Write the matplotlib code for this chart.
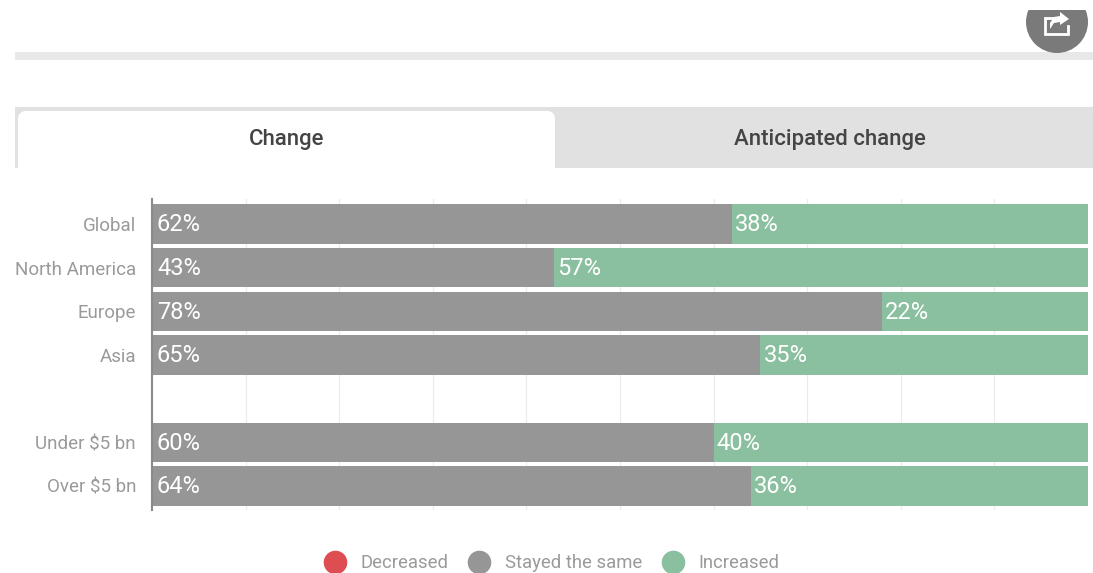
import matplotlib
matplotlib.use("Agg")
import matplotlib.pyplot as plt
from matplotlib.patches import Rectangle, Circle, FancyBboxPatch, Polygon
from matplotlib.lines import Line2D

plt.rcParams['font.family'] = ['Roboto', 'DejaVu Sans']

categories = ["Global", "North America", "Europe", "Asia", "", "Under $5 bn", "Over $5 bn"]
decreased = [0, 0, 0, 0, 0, 0, 0]
stayed = [62, 43, 78, 65, 0, 60, 64]
increased = [38, 57, 22, 35, 0, 40, 36]
series_names = ["Decreased", "Stayed the same", "Increased"]
tab_labels = ["Change", "Anticipated change"]
colors = ["#dd4d52", "#969696", "#8abf9f"]

W, H = 1093, 573
fig = plt.figure(figsize=(W / 100, H / 100), dpi=100, facecolor="white")

# page chrome, in pixel coordinates
bg = fig.add_axes([0, 0, 1, 1], zorder=0)
bg.set_xlim(0, W); bg.set_ylim(H, 0); bg.axis("off")
bg.add_patch(Rectangle((15, 52), W - 15, 8, fc="#e8e8e8", ec="none"))
bg.add_patch(Rectangle((15, 107), W - 15, 61, fc="#e1e1e1", ec="none"))
bg.add_patch(FancyBboxPatch((22, 115), 529, 70, boxstyle="round,pad=0,rounding_size=4",
                            fc="white", ec="white", lw=5.76, mutation_aspect=1))
bg.add_patch(Rectangle((15, 168), W - 15, 30, fc="white", ec="none"))
bg.text(287, 139.5, tab_labels[0], ha="center", va="center", fontsize=15.9, color="#444444", fontweight="medium")
bg.text(830, 139.5, tab_labels[1], ha="center", va="center", fontsize=15.9, color="#444444", fontweight="medium")

# share button
disc = Circle((1057, 22), 31, fc="#7a7a7a", ec="none")
bg.add_patch(disc)
disc.set_clip_path(Rectangle((1000, 10), 93, 60, transform=bg.transData))
bg.add_line(Line2D([1053, 1045, 1045, 1068, 1068], [18, 18, 34, 34, 26], color="white", lw=2.0, solid_joinstyle="miter"))
bg.add_patch(Polygon([(1060, 12), (1069, 19), (1060, 25), (1060, 22), (1054, 23), (1050, 29), (1050, 23), (1054, 17), (1060, 16)],
                     fc="white", ec="none"))

# chart
left, right, top, bottom = 152, 1088, 199, 510
ax = fig.add_axes([left / W, 1 - bottom / H, (right - left) / W, (bottom - top) / H], zorder=1)
ax.patch.set_alpha(0)
y = list(range(len(categories)))
ax.barh(y, decreased, height=0.9, color=colors[0], label=series_names[0], zorder=2)
ax.barh(y, stayed, left=decreased, height=0.9, color=colors[1], label=series_names[1], zorder=2)
lefts = [d + s for d, s in zip(decreased, stayed)]
ax.barh(y, increased, left=lefts, height=0.9, color=colors[2], label=series_names[2], zorder=2)
ax.set_xlim(0, 100)
ax.set_ylim(6.55, -0.572)
ax.set_xticks(range(0, 101, 10))
ax.grid(axis="x", color="#ebebeb", lw=0.8, zorder=0)
ax.set_axisbelow(True)
ax.tick_params(axis="x", length=0, labelbottom=False)
ax.set_yticks(y, categories, fontsize=13.5, color="#9a9a9a")
ax.tick_params(axis="y", length=0, pad=11.5)
for s in ("top", "right", "bottom"):
    ax.spines[s].set_visible(False)
ax.spines["left"].set_color("#8a8a8a")
ax.spines["left"].set_linewidth(1.5)
ax.spines["left"].set_zorder(3)

for i in y:
    if stayed[i]:
        ax.annotate(f"{stayed[i]}%", (0, i), xytext=(5, -1), textcoords="offset pixels",
                    va="center", ha="left", color="white", fontsize=17, zorder=4)
    if increased[i]:
        ax.annotate(f"{increased[i]}%", (lefts[i], i), xytext=(3, -1), textcoords="offset pixels",
                    va="center", ha="left", color="white", fontsize=17, zorder=4)

handles = [Line2D([], [], ls="", marker="o", ms=17, mfc=c, mec="none") for c in colors]
ax.legend(handles, series_names, ncol=3, frameon=False, loc="center", fontsize=13.3,
          labelcolor="#9a9a9a", bbox_to_anchor=(0.426, -0.171), columnspacing=0.95,
          handletextpad=0.7, handlelength=1.4, borderpad=0)

fig.savefig("out.png", dpi=100)
